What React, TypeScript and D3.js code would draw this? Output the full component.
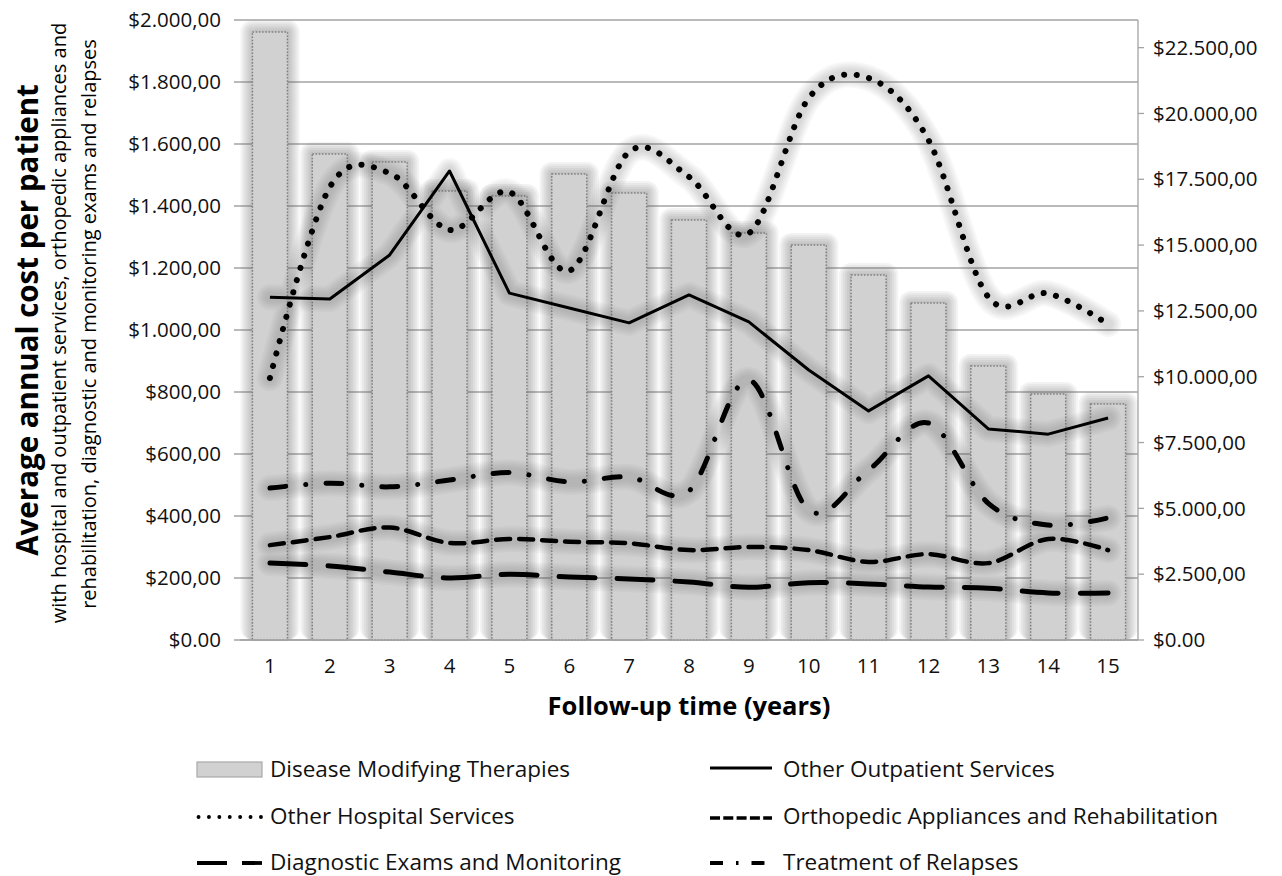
import React from "react";
import * as d3 from "d3";

const years = [1, 2, 3, 4, 5, 6, 7, 8, 9, 10, 11, 12, 13, 14, 15];
const dmt = [23094, 18460, 18156, 17055, 16865, 17700, 16979, 15953, 15459, 15003, 13864, 12800, 10407, 9344, 8964];
const outpatient = [1106, 1100, 1242, 1513, 1119, 1071, 1023, 1113, 1026, 871, 739, 852, 681, 664, 716];
const hospital = [845, 1461, 1506, 1323, 1445, 1191, 1575, 1494, 1312, 1748, 1813, 1613, 1106, 1118, 1019];
const orthopedic = [306, 332, 363, 313, 326, 317, 312, 290, 300, 290, 252, 277, 248, 326, 290];
const diagnostic = [248, 239, 219, 200, 212, 203, 197, 187, 170, 185, 181, 171, 167, 152, 152];
const relapses = [490, 506, 494, 516, 540, 510, 526, 481, 839, 419, 548, 700, 441, 371, 394];

const leftTicks = [0, 200, 400, 600, 800, 1000, 1200, 1400, 1600, 1800, 2000];
const leftTickLabels = ["$0.00", "$200,00", "$400,00", "$600,00", "$800,00", "$1.000,00", "$1.200,00", "$1.400,00", "$1.600,00", "$1.800,00", "$2.000,00"];
const rightTicks = [0, 2500, 5000, 7500, 10000, 12500, 15000, 17500, 20000, 22500];
const rightTickLabels = ["$0.00", "$2.500,00", "$5.000,00", "$7.500,00", "$10.000,00", "$12.500,00", "$15.000,00", "$17.500,00", "$20.000,00", "$22.500,00"];

const leftMax = 2000;
const rightMax = 23550;

const W = 1282, H = 876;
const L = 240, R = 1138, T = 20, B = 640;
const FONT = "'Open Sans', sans-serif";

const haloSteps = [12, 10, 8, 6, 4, 2];
const lineHaloWidths = [26, 22, 18, 14, 10];

export default function App() {
  const x = d3.scaleBand<number>().domain(years).range([L, R]).paddingInner(0.415).paddingOuter(0.2075);
  const cx = (d: number) => (x(d) as number) + x.bandwidth() / 2;
  const yL = d3.scaleLinear().domain([0, leftMax]).range([B, T]);
  const yR = d3.scaleLinear().domain([0, rightMax]).range([B, T]);

  const smooth = (vals: number[]) =>
    d3.line<number>().x((_, i) => cx(years[i])).y((v) => yL(v)).curve(d3.curveCatmullRom.alpha(0))(vals) as string;
  const straight = (vals: number[]) =>
    d3.line<number>().x((_, i) => cx(years[i])).y((v) => yL(v))(vals) as string;

  const lines = [
    { key: "diag", d: smooth(diagnostic), w: 5, dash: "36 22", cap: "round" },
    { key: "ortho", d: smooth(orthopedic), w: 4.5, dash: "14 9", cap: "round" },
    { key: "rel", d: smooth(relapses), w: 5, dash: "16 20 0.1 20", cap: "round" },
    { key: "hosp", d: smooth(hospital), w: 6, dash: "0.1 12.6", cap: "round" },
    { key: "out", d: straight(outpatient), w: 3, dash: "none", cap: "butt" },
  ];

  const legendRows = [777, 824, 870];
  const col1 = { sx: 197, ex: 262, tx: 270 };
  const col2 = { sx: 710, ex: 772, tx: 783 };
  const txt = "#111";
  const tickFs = 20.5;
  const legFs = 22.5;

  return (
    <svg width={W} height={H} style={{ position: "absolute", left: 0, top: 0, background: "#fff" }} fontFamily={FONT}>
      <rect x={0} y={0} width={W} height={H} fill="#fff" />

      {/* gridlines */}
      {leftTicks.map((t) => (
        <line key={"g" + t} x1={L - 6} x2={R} y1={yL(t)} y2={yL(t)} stroke="#a3a3a3" strokeWidth={1.3} />
      ))}
      {/* right axis */}
      <line x1={R} x2={R} y1={T} y2={B} stroke="#a3a3a3" strokeWidth={1.3} />
      {rightTicks.map((t) => (
        <line key={"rt" + t} x1={R} x2={R + 6} y1={yR(t)} y2={yR(t)} stroke="#a3a3a3" strokeWidth={1.3} />
      ))}

      {/* bar halos (stacked soft edges) */}
      {haloSteps.map((k) => (
        <g key={"bh" + k} opacity={0.075}>
          {dmt.map((v, i) => (
            <rect key={i} x={(x(years[i]) as number) - k} y={yR(v) - k} width={x.bandwidth() + 2 * k}
              height={B - yR(v) + k} rx={k} fill="#6a6a6a" />
          ))}
        </g>
      ))}
      {/* bars */}
      {dmt.map((v, i) => (
        <rect key={"b" + i} x={x(years[i])} y={yR(v)} width={x.bandwidth()} height={B - yR(v)}
          fill="#d2d1d2" stroke="#808080" strokeWidth={1.5} strokeDasharray="1.6 1.6" />
      ))}
      <line x1={L} x2={R} y1={B} y2={B} stroke="#a3a3a3" strokeWidth={1.5} />

      {/* line halos */}
      {lineHaloWidths.map((w) => (
        <g key={"lh" + w} opacity={0.045}>
          {lines.map((l) => (
            <path key={l.key} d={l.d} fill="none" stroke="#555" strokeWidth={w} strokeLinejoin="round" strokeLinecap="round" />
          ))}
        </g>
      ))}
      {/* lines */}
      {lines.map((l) => (
        <path key={l.key} d={l.d} fill="none" stroke="#000" strokeWidth={l.w}
          strokeDasharray={l.dash} strokeLinecap={l.cap as any} strokeLinejoin="round" />
      ))}

      {/* left tick labels */}
      {leftTicks.map((t, i) => (
        <text key={"lt" + t} x={221} y={yL(t)} dy="0.35em" textAnchor="end" fontSize={tickFs} fill={txt}>
          {leftTickLabels[i]}
        </text>
      ))}
      {/* right tick labels */}
      {rightTicks.map((t, i) => (
        <text key={"rl" + t} x={1153} y={yR(t)} dy="0.35em" textAnchor="start" fontSize={tickFs} fill={txt}>
          {rightTickLabels[i]}
        </text>
      ))}
      {/* x tick labels */}
      {years.map((yr) => (
        <text key={"xt" + yr} x={cx(yr)} y={666} dy="0.35em" textAnchor="middle" fontSize={tickFs} fill={txt}>
          {yr}
        </text>
      ))}

      {/* axis titles */}
      <text x={689} y={706} dy="0.35em" textAnchor="middle" fontSize={25.5} fontWeight="bold" fill="#000">
        Follow-up time (years)
      </text>
      <text transform="translate(38,320) rotate(-90)" textAnchor="middle" fontSize={29.5} fontWeight="bold" fill="#000">
        Average annual cost per patient
      </text>
      <text transform="translate(66,323) rotate(-90)" textAnchor="middle" fontSize={20} fill="#000">
        with hospital and outpatient services, orthopedic appliances and
      </text>
      <text transform="translate(96,324) rotate(-90)" textAnchor="middle" fontSize={20} fill="#000">
        rehabilitation, diagnostic and monitoring exams and relapses
      </text>

      {/* legend */}
      <rect x={col1.sx} y={762} width={col1.ex - col1.sx} height={15} fill="#d2d1d2" stroke="#a8a8a8" strokeWidth={1.2} />
      <text x={col1.tx} y={legendRows[0]} fontSize={legFs} fill={txt}>Disease Modifying Therapies</text>

      <line x1={col2.sx} x2={col2.ex} y1={768} y2={768} stroke="#000" strokeWidth={3} />
      <text x={col2.tx} y={legendRows[0]} fontSize={legFs} fill={txt}>Other Outpatient Services</text>

      <line x1={col1.sx + 1.5} x2={col1.ex} y1={817} y2={817} stroke="#000" strokeWidth={3.8} strokeDasharray="0.1 10.3" strokeLinecap="round" />
      <text x={col1.tx} y={legendRows[1]} fontSize={legFs} fill={txt}>Other Hospital Services</text>

      <line x1={col2.sx} x2={col2.ex} y1={818} y2={818} stroke="#000" strokeWidth={3.4} strokeDasharray="10 3.3" />
      <text x={col2.tx} y={legendRows[1]} fontSize={legFs} fill={txt}>Orthopedic Appliances and Rehabilitation</text>

      <line x1={col1.sx} x2={col1.ex} y1={863} y2={863} stroke="#000" strokeWidth={3.8} strokeDasharray="30 15" />
      <text x={col1.tx} y={legendRows[2]} fontSize={legFs} fill={txt}>Diagnostic Exams and Monitoring</text>

      <line x1={col2.sx} x2={col2.ex} y1={863} y2={863} stroke="#000" strokeWidth={3.8} strokeDasharray="13 13 2.5 13" />
      <text x={col2.tx} y={legendRows[2]} fontSize={legFs} fill={txt}>Treatment of Relapses</text>
    </svg>
  );
}
